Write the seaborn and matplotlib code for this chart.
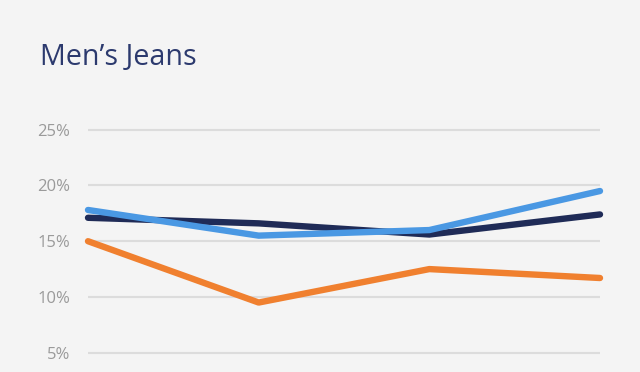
import matplotlib
matplotlib.use('Agg')
import matplotlib.pyplot as plt
import pandas as pd
import seaborn as sns

periods = ['P1', 'P2', 'P3', 'P4']
series_navy = [17.1, 16.6, 15.6, 17.4]
series_blue = [17.8, 15.5, 16.0, 19.5]
series_orange = [15.0, 9.5, 12.5, 11.7]
y_ticks = [5, 10, 15, 20, 25]
y_tick_labels = ['5%', '10%', '15%', '20%', '25%']

df = pd.DataFrame({
    'period': list(range(len(periods))) * 3,
    'share': series_navy + series_blue + series_orange,
    'series': ['navy'] * 4 + ['blue'] * 4 + ['orange'] * 4,
})
palette = {'navy': '#1f2b57', 'blue': '#4a98e3', 'orange': '#f0802f'}

sns.set_style('white')
plt.rcParams['font.family'] = ['Open Sans', 'DejaVu Sans']

bg = '#f4f4f4'
fig = plt.figure(figsize=(6.4, 3.72), dpi=100, facecolor=bg)
ax = fig.add_axes([0.1375, 0.0368, 0.8, 0.6296])
ax.set_facecolor(bg)

sns.lineplot(data=df, x='period', y='share', hue='series', palette=palette,
             linewidth=4.6, legend=False, ax=ax, sort=False)
for line in ax.lines:
    line.set_solid_capstyle('round')
    line.set_solid_joinstyle('round')
    line.set_clip_on(False)

ax.set_xlim(0, 3)
ax.set_ylim(4.5, 25.5)
ax.set_yticks(y_ticks)
ax.set_yticklabels(y_tick_labels)
ax.set_xticks([])
ax.set_xlabel('')
ax.set_ylabel('')
ax.yaxis.grid(True, color='#dcdcdc', linewidth=1.5)
ax.set_axisbelow(True)
ax.tick_params(axis='y', length=0, pad=13, labelsize=12, labelcolor='#9a9a9a')
for s in ax.spines.values():
    s.set_visible(False)

fig.text(40 / 640, 1 - 65 / 372, 'Men\u2019s Jeans', fontsize=20.7,
         color='#2c3a6e', ha='left', va='baseline')

fig.savefig('out.png', dpi=100, facecolor=bg)
